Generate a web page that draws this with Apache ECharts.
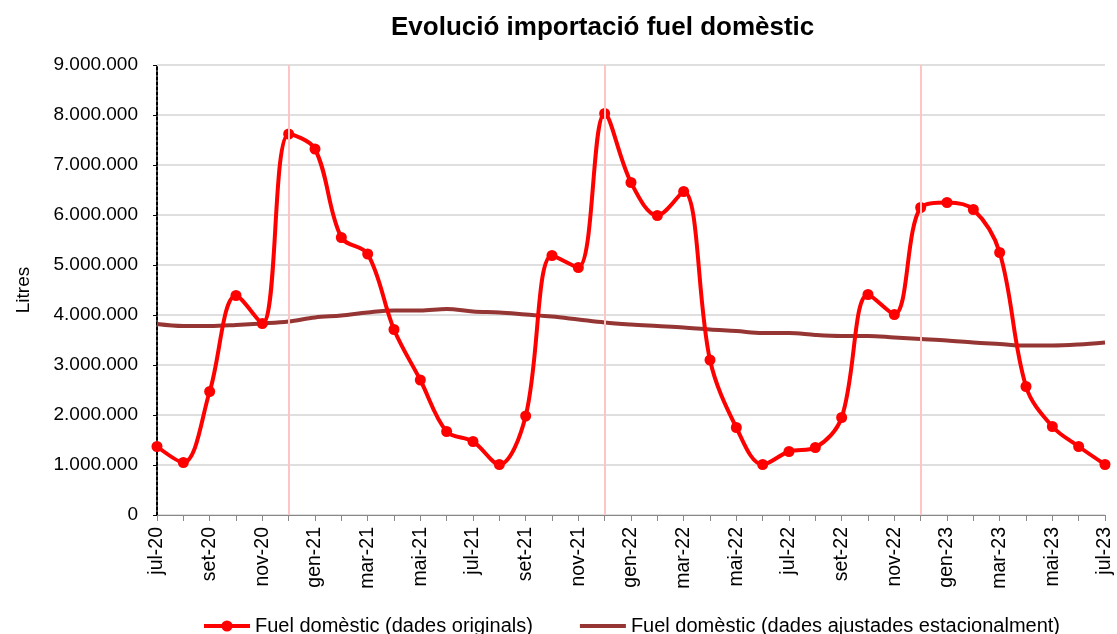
<!DOCTYPE html>
<html>
<head>
<meta charset="utf-8">
<script src="https://cdn.jsdelivr.net/npm/echarts@6/dist/echarts.min.js"></script>
<style>
  html, body { margin: 0; padding: 0; background: #fff; }
  #chart { width: 1117px; height: 634px; }
</style>
</head>
<body>
<div id="chart"></div>
<script>
// monthly categories jul-20 .. jul-23
const months = [
  'jul-20', 'ago-20', 'set-20', 'oct-20', 'nov-20', 'des-20',
  'gen-21', 'feb-21', 'mar-21', 'abr-21', 'mai-21', 'jun-21',
  'jul-21', 'ago-21', 'set-21', 'oct-21', 'nov-21', 'des-21',
  'gen-22', 'feb-22', 'mar-22', 'abr-22', 'mai-22', 'jun-22',
  'jul-22', 'ago-22', 'set-22', 'oct-22', 'nov-22', 'des-22',
  'gen-23', 'feb-23', 'mar-23', 'abr-23', 'mai-23', 'jun-23',
  'jul-23',
]

// Fuel domèstic (dades originals), litres
const original = [
  1370000, 1050000, 2470000, 4390000, 3830000, 7620000,
  7320000, 5550000, 5220000, 3710000, 2700000, 1670000,
  1470000, 1010000, 1980000, 5190000, 4950000, 8030000,
  6650000, 5990000, 6470000, 3100000, 1750000, 1010000,
  1270000, 1350000, 1950000, 4410000, 4010000, 6150000,
  6250000, 6110000, 5250000, 2570000, 1770000, 1370000,
  1010000,
]

// Fuel domèstic (dades ajustades estacionalment), litres
const adjusted = [
  3820000, 3780000, 3780000, 3800000, 3830000, 3870000,
  3950000, 3990000, 4050000, 4090000, 4090000, 4120000,
  4070000, 4050000, 4010000, 3970000, 3910000, 3850000,
  3810000, 3780000, 3750000, 3710000, 3680000, 3640000,
  3640000, 3600000, 3580000, 3580000, 3550000, 3520000,
  3490000, 3450000, 3420000, 3390000, 3390000, 3410000,
  3450000,
]

// december markers (vertical lines)
const yearMarks = ['des-20', 'des-21', 'des-22']

const yTicks = { min: 0, max: 9000000, interval: 1000000 }

const font = '"Liberation Sans", Arial, sans-serif'

function fmtThousands(v) {
  return String(v).replace(/\B(?=(\d{3})+(?!\d))/g, '.')
}

const chart = echarts.init(document.getElementById('chart'))
chart.setOption({
  backgroundColor: '#fff',
  animation: false,
  textStyle: { fontFamily: font },
  title: {
    text: 'Evolució importació fuel domèstic',
    left: 386,
    top: 10,
    textStyle: { fontSize: 26, fontWeight: 'bold', color: '#000', fontFamily: font },
  },
  grid: { left: 157, right: 12, top: 65, bottom: 119 },
  legend: {
    top: 611,
    left: 197,
    itemWidth: 46,
    itemHeight: 14,
    itemGap: 45,
    lineStyle: { width: 4 },
    textStyle: { fontSize: 20, color: '#000', fontFamily: font },
    data: [
      { name: 'Fuel domèstic (dades originals)' },
      { name: 'Fuel domèstic (dades ajustades estacionalment)', itemStyle: { opacity: 0 } },
    ],
  },
  xAxis: {
    type: 'category',
    data: months,
    boundaryGap: false,
    axisLine: { lineStyle: { color: '#888', width: 1 } },
    axisTick: { show: true, interval: 0, length: 6, lineStyle: { color: '#888' } },
    axisLabel: {
      interval: 1,
      rotate: 90,
      fontSize: 19.5,
      color: '#000',
      margin: 12,
      fontFamily: font,
    },
    splitLine: { show: false },
  },
  yAxis: {
    type: 'value',
    min: yTicks.min,
    max: yTicks.max,
    interval: yTicks.interval,
    name: 'Litres',
    nameLocation: 'middle',
    nameGap: 124,
    nameTextStyle: { fontSize: 19, color: '#000', fontFamily: font },
    axisLine: { show: true, lineStyle: { color: '#000', width: 2, type: [3, 2] } },
    axisTick: { show: true, length: 4, lineStyle: { color: '#000' } },
    axisLabel: {
      fontSize: 19,
      color: '#000',
      margin: 19,
      fontFamily: font,
      formatter: fmtThousands,
    },
    splitLine: { lineStyle: { color: '#d4d4d4', width: 1.5 } },
  },
  series: [
    {
      name: 'Fuel domèstic (dades originals)',
      type: 'line',
      data: original,
      smooth: 0.35,
      symbol: 'circle',
      symbolSize: 11,
      z: 3,
      lineStyle: { color: '#ff0000', width: 4 },
      itemStyle: { color: '#ff0000' },
      markLine: {
        silent: true,
        symbol: 'none',
        label: { show: false },
        lineStyle: { color: '#ffc4c4', width: 2, type: 'solid' },
        data: yearMarks.map(m => ({ xAxis: m })),
      },
    },
    {
      name: 'Fuel domèstic (dades ajustades estacionalment)',
      type: 'line',
      data: adjusted,
      smooth: 0.35,
      symbol: 'none',
      z: 2,
      lineStyle: { color: '#963634', width: 4 },
      itemStyle: { color: '#963634' },
    },
  ],
})
</script>
</body>
</html>
